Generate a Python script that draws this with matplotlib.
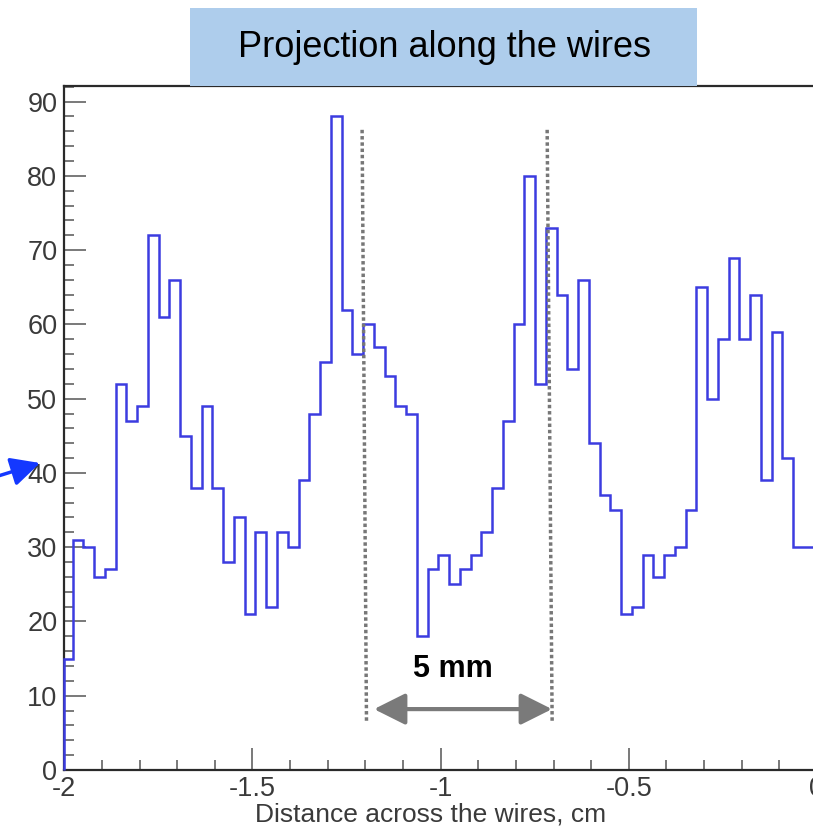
import numpy as np
import matplotlib
matplotlib.use("Agg")
import matplotlib.pyplot as plt
from matplotlib.ticker import MultipleLocator
from matplotlib.patches import Rectangle

plt.rcParams['font.family'] = ['Liberation Sans', 'DejaVu Sans']
plt.rcParams['axes.unicode_minus'] = False

#### data ####
# counts per bin
counts = [15, 31, 30, 26, 27, 52, 47, 49, 72, 61, 66, 45, 38, 49, 38, 28, 34, 21,
          32, 22, 32, 30, 39, 48, 55, 88, 62, 56, 60, 57, 53, 49, 48, 18, 27, 29,
          25, 27, 29, 32, 38, 47, 60, 80, 52, 73, 64, 54, 66, 44, 37, 35, 21, 22,
          29, 26, 29, 30, 35, 65, 50, 58, 69, 58, 64, 39, 59, 42, 30, 30]
x_start = -2.0          # first bin is cut by the axis
first_edge = -1.9777    # first full bin edge
bin_width = 1 / 35.0

xtick_vals = [-2, -1.5, -1, -0.5, 0]
xtick_labels = ['-2', '-1.5', '-1', '-0.5', '0']
ytick_vals = [0, 10, 20, 30, 40, 50, 60, 70, 80, 90]
ytick_labels = ['0', '10', '20', '30', '40', '50', '60', '70', '80', '90']

title = 'Projection along the wires'
xlabel = 'Distance across the wires, cm'
span_label = '5 mm'

edges = np.r_[x_start, first_edge + bin_width * np.arange(len(counts))]

W, H = 813, 831
fig = plt.figure(figsize=(W / 100, H / 100), dpi=100)
ax = fig.add_axes([64.3 / W, 61 / H, 752.7 / W, 684 / H])

ax.stairs(counts, edges, baseline=0, color='#3c3ce0', lw=1.8, zorder=3, clip_on=False)

ax.set_xlim(-2, 0)
ax.set_ylim(0, 92.1)
ax.set_xticks(xtick_vals)
ax.set_xticklabels(xtick_labels)
ax.set_yticks(ytick_vals)
ax.set_yticklabels(ytick_labels)
ax.xaxis.set_minor_locator(MultipleLocator(0.1))
ax.yaxis.set_minor_locator(MultipleLocator(2))
ax.tick_params(which='both', direction='in', color='#555555', width=1.1,
               labelsize=19.5, labelcolor='#3a3a3a', top=False, right=False)
ax.tick_params(which='major', length=16)
ax.tick_params(which='minor', length=7)
ax.tick_params(axis='y', pad=5)
ax.tick_params(axis='x', pad=4)

for side in ['left', 'bottom', 'top', 'right']:
    ax.spines[side].set_color('#2a2a2a')
    ax.spines[side].set_linewidth(1.6)

ax.set_xlabel(xlabel, fontsize=19, color='#3a3a3a')
ax.xaxis.set_label_coords(0.486, -0.048)

### dotted guide lines marking the 5 mm period
guide_top, guide_bot = 86.2, 6.3
ax.plot([-1.2087, -1.197], [guide_top, guide_bot], color='#777777', lw=2.5,
        linestyle=(0, (1, 0.8)), zorder=4)
ax.plot([-0.7170, -0.7037], [guide_top, guide_bot], color='#777777', lw=2.5,
        linestyle=(0, (1, 0.8)), zorder=4)

ax.annotate('', xy=(-0.7041, 8.2), xytext=(-1.1771, 8.2),
            arrowprops=dict(arrowstyle='<|-|>', color='#7a7a7a', lw=3,
                            mutation_scale=48, shrinkA=0, shrinkB=0), zorder=4)
ax.text(-0.9672, 12.5, span_label, fontsize=22, fontweight='bold',
        ha='center', va='baseline', color='black')

### title box
fig.patches.append(Rectangle((190 / W, 1 - 86 / H), 507 / W, 78 / H,
                             transform=fig.transFigure, facecolor='#aecdec',
                             edgecolor='none', zorder=5))
fig.text(444.5 / W, 1 - 57 / H, title, fontsize=26, ha='center', va='baseline',
         color='black', zorder=6)

### blue pointer on the left edge
ax.annotate('', xy=(40 / W, 1 - 463 / H), xycoords='figure fraction',
            xytext=(-5 / W, 1 - 477 / H), textcoords='figure fraction',
            arrowprops=dict(arrowstyle='-|>', color='#1438ff', lw=2.5,
                            mutation_scale=44, shrinkA=0, shrinkB=0))

fig.savefig('out.png', dpi=100)
